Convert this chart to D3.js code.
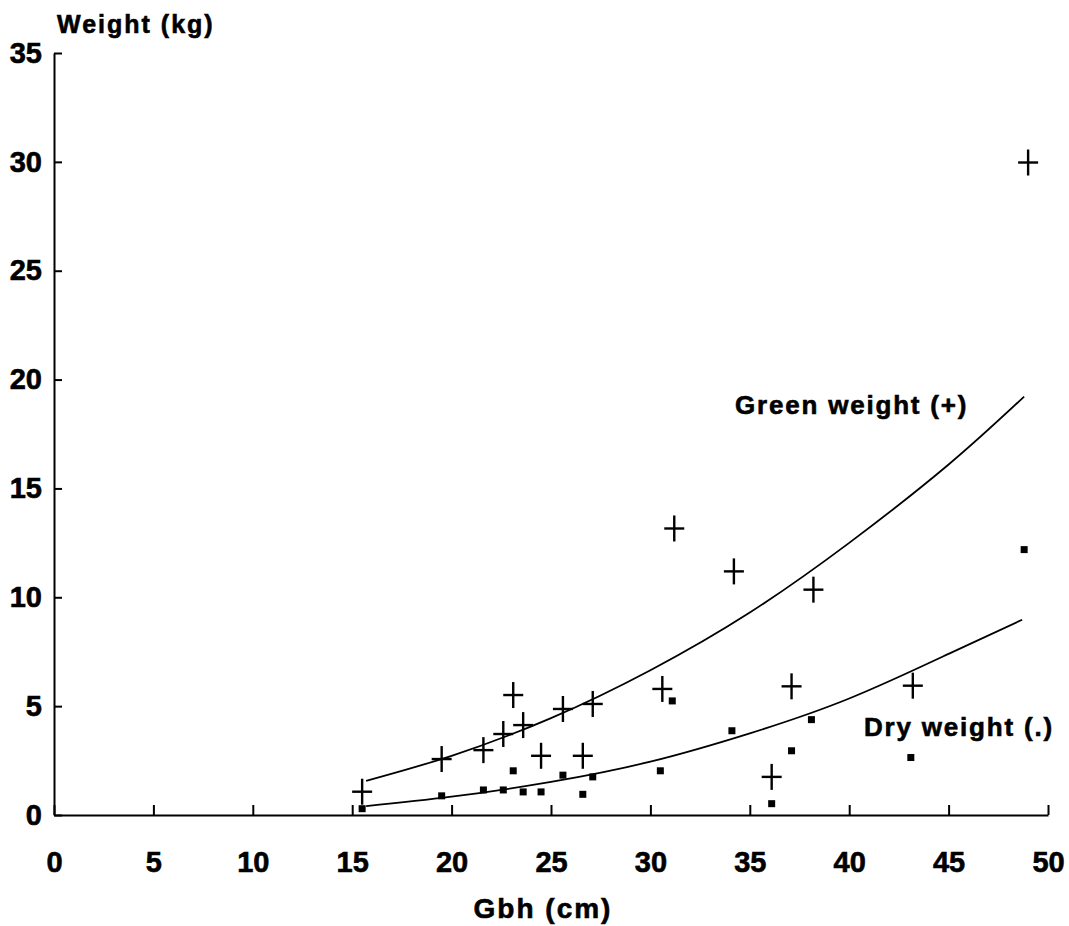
<!DOCTYPE HTML>
<html>
<head>
        <meta charset="utf-8">
  </head>
<body style="margin:0;background:#fff;">

<style>

text {
  font-family: "Liberation Sans", Arial, sans-serif;
  font-weight: bold;
  fill: #000;
  stroke: #000;
  stroke-width: 0.6;
}

.axis path, .axis line {
  stroke: #000;
  stroke-width: 2;
}

.axis text {
  font-size: 29px;
}

.fit {
  fill: none;
  stroke: #000;
  stroke-width: 1.8;
}

.cross line {
  stroke: #000;
  stroke-width: 2.4;
}

</style>
<svg width="1069" height="926"></svg>
<script src="https://d3js.org/d3.v7.min.js"></script>
<script>
var svg = d3.select("svg");

// ticks
var xTicks = [0, 5, 10, 15, 20, 25, 30, 35, 40, 45, 50];
var yTicks = [0, 5, 10, 15, 20, 25, 30, 35];

// green weight (+), gbh in cm / kg
var greenGbh = [15.5, 19.5, 21.6, 22.6, 23.1, 23.6, 24.5, 25.6, 26.6, 27.1, 30.6, 31.2, 34.2, 36.1, 37.1, 38.2, 43.2, 49.0];
var greenKg  = [1.07, 2.57, 2.98, 3.72, 5.51, 4.13, 2.72, 4.87, 2.72, 5.10, 5.79, 13.16, 11.19, 1.75, 5.91, 10.35, 5.94, 29.97];

// dry weight (.)
var dryGbh = [15.5, 19.5, 21.6, 22.6, 23.1, 23.6, 24.5, 25.6, 26.6, 27.1, 30.5, 31.1, 34.1, 36.1, 37.1, 38.1, 43.1, 48.8];
var dryKg  = [0.29, 0.88, 1.15, 1.15, 2.03, 1.06, 1.06, 1.83, 0.95, 1.75, 2.03, 5.24, 3.87, 0.52, 2.95, 4.38, 2.64, 12.19];

// fitted curves
var greenFitGbh = [15.7, 20.0, 25.0, 30.0, 35.0, 40.0, 45.0, 48.8];
var greenFitKg  = [1.57, 2.72, 4.45, 6.65, 9.3, 12.5, 16.1, 19.22];
var dryFitGbh = [15.7, 20.0, 25.0, 30.0, 35.0, 40.0, 45.0, 48.7];
var dryFitKg  = [0.41, 0.84, 1.52, 2.45, 3.75, 5.35, 7.4, 8.97];

var x = d3.scaleLinear().domain([0, 50]).range([54, 1048]);
var y = d3.scaleLinear().domain([0, 35]).range([815, 53]);

svg.append("g")
    .attr("class", "axis")
    .attr("transform", "translate(0," + y(0) + ")")
    .call(d3.axisBottom(x).tickValues(xTicks).tickSizeInner(-10).tickSizeOuter(0).tickPadding(36))
    .call(function(g) { g.selectAll("text").attr("font-family", null).attr("font-size", null); });

svg.append("g")
    .attr("class", "axis")
    .attr("transform", "translate(" + x(0) + ",0)")
    .call(d3.axisLeft(y).tickValues(yTicks).tickSizeInner(-8).tickSizeOuter(0).tickPadding(12))
    .call(function(g) { g.selectAll("text").attr("font-family", null).attr("font-size", null); });

var line = d3.line()
    .x(function(d) { return x(d[0]); })
    .y(function(d) { return y(d[1]); })
    .curve(d3.curveNatural);

svg.append("path")
    .attr("class", "fit")
    .attr("d", line(d3.zip(greenFitGbh, greenFitKg)));

svg.append("path")
    .attr("class", "fit")
    .attr("d", line(d3.zip(dryFitGbh, dryFitKg)));

var cross = svg.append("g")
    .attr("class", "cross")
  .selectAll("g")
  .data(d3.zip(greenGbh, greenKg))
  .enter().append("g")
    .attr("transform", function(d) { return "translate(" + x(d[0]) + "," + y(d[1]) + ")"; });

cross.append("line").attr("x1", -10).attr("x2", 10);
cross.append("line").attr("y1", -13).attr("y2", 13);

svg.append("g")
  .selectAll("rect")
  .data(d3.zip(dryGbh, dryKg))
  .enter().append("rect")
    .attr("x", function(d) { return x(d[0]) - 3.5; })
    .attr("y", function(d) { return y(d[1]) - 3.5; })
    .attr("width", 7)
    .attr("height", 7)
    .attr("fill", "#000");

svg.append("text")
    .attr("x", 57)
    .attr("y", 33)
    .attr("font-size", 25)
    .attr("letter-spacing", 2)
    .text("Weight (kg)");

svg.append("text")
    .attr("x", 543)
    .attr("y", 918)
    .attr("text-anchor", "middle")
    .attr("font-size", 28)
    .attr("letter-spacing", 2)
    .text("Gbh (cm)");

svg.append("text")
    .attr("x", 735)
    .attr("y", 414)
    .attr("font-size", 26)
    .attr("letter-spacing", 1.8)
    .text("Green weight (+)");

svg.append("text")
    .attr("x", 864)
    .attr("y", 736)
    .attr("font-size", 26)
    .attr("letter-spacing", 1.8)
    .text("Dry weight (.)");

</script>

</body>

</html>
